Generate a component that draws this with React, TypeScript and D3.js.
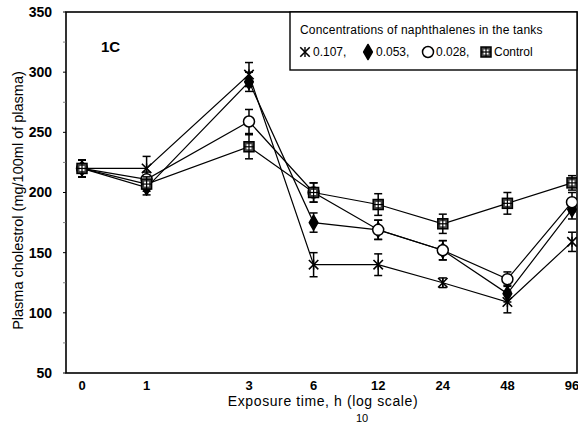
import React from 'react';
import * as d3 from 'd3';

// exposure times (h); 0 is drawn at 0.5 h on the log axis
const hours = [0, 1, 3, 6, 12, 24, 48, 96];
const yTicks = [50, 100, 150, 200, 250, 300, 350];

const s107 = [220, 220, 298, 140, 140, 125, 109, 159];
const e107 = [7, 10, 10, 10, 9, 4, 9, 8];
const s053 = [220, 204, 292, 175, 169, 152, 116, 186];
const e053 = [7, 6, 8, 8, 8, 8, 7, 8];
const s028 = [220, 211, 259, 200, 169, 152, 128, 192];
const e028 = [7, 6, 10, 8, 8, 8, 6, 8];
const sControl = [220, 207, 238, 200, 190, 174, 191, 208];
const eControl = [7, 6, 10, 8, 9, 8, 9, 6];

const seriesNames = ['0.107,', '0.053,', '0.028,', 'Control'];

const W = 578;
const H = 423;
const m = { l: 66, r: 577, t: 12, b: 373 };
const font = 'Liberation Sans, Arial, Helvetica, sans-serif';

const xPos = (h: number) => (h === 0 ? 0.5 : h);
const x = d3.scaleLog().base(2).domain([0.5, 96]).range([82, 572]);
const y = d3.scaleLinear().domain([50, 350]).range([m.b, m.t]);

const Marker = ({ kind, cx, cy }: { kind: string; cx: number; cy: number }) => {
	if (kind === 'star') {
		return (
			<g transform={`translate(${cx},${cy})`}>
				<path d={d3.symbol(d3.symbolX, 60)()} stroke="#000" strokeWidth={1.6} fill="none" />
				<line x1={0} x2={0} y1={-5} y2={5} stroke="#000" strokeWidth={1.4} />
			</g>
		);
	}
	if (kind === 'diamond') {
		return <path d={d3.symbol(d3.symbolDiamond, 65)()} transform={`translate(${cx},${cy})`} fill="#000" stroke="#000" strokeWidth={1.5} strokeLinejoin="round" />;
	}
	if (kind === 'circle') {
		return <circle cx={cx} cy={cy} r={5.5} fill="#fff" stroke="#000" strokeWidth={1.5} />;
	}
	return (
		<g transform={`translate(${cx},${cy})`}>
			<rect x={-5} y={-5} width={10} height={10} fill="#444" stroke="#000" strokeWidth={1.5} />
			<rect x={-2.5} y={-2.5} width={5} height={5} fill="#fff" />
			<line x1={0} x2={0} y1={-5} y2={5} stroke="#000" strokeWidth={1.2} />
			<line x1={-5} x2={5} y1={0} y2={0} stroke="#000" strokeWidth={1.2} />
		</g>
	);
};

const series = [
	{ name: seriesNames[0], values: s107, errs: e107, kind: 'star' },
	{ name: seriesNames[1], values: s053, errs: e053, kind: 'diamond' },
	{ name: seriesNames[2], values: s028, errs: e028, kind: 'circle' },
	{ name: seriesNames[3], values: sControl, errs: eControl, kind: 'square' },
];

const App = () => {
	const line = d3
		.line<number>()
		.x((d, i) => x(xPos(hours[i])))
		.y((d) => y(d));

	const minor = d3.range(75, 350, 50);

	return (
		<svg width={W} height={H} style={{ position: 'absolute', left: 0, top: 0, background: '#fff' }} fontFamily={font}>
			<defs>
				<clipPath id="plot">
					<rect x={m.l} y={m.t} width={m.r - m.l} height={m.b - m.t} />
				</clipPath>
			</defs>

			{/* frame */}
			<rect x={m.l} y={m.t} width={m.r - m.l} height={m.b - m.t} fill="none" stroke="#000" strokeWidth={1.6} />

			{/* y ticks */}
			{yTicks.map((t) => (
				<g key={t}>
					<line x1={m.l - 3} x2={m.l} y1={y(t)} y2={y(t)} stroke="#000" strokeWidth={1} />
					<text x={52} y={y(t)} dy="0.35em" textAnchor="end" fontSize={14} fontWeight="bold">
						{t}
					</text>
				</g>
			))}
			{minor.map((t) => (
				<line key={t} x1={m.l - 3} x2={m.l} y1={y(t)} y2={y(t)} stroke="#666" strokeWidth={0.8} />
			))}

			{/* x tick labels */}
			{hours.map((h) => (
				<text key={h} x={x(xPos(h))} y={390} textAnchor="middle" fontSize={13} fontWeight="bold">
					{h}
				</text>
			))}

			<text x={323} y={406} textAnchor="middle" fontSize={14} letterSpacing={0.6}>
				Exposure time, h (log  scale)
			</text>
			<text x={362} y={422} textAnchor="middle" fontSize={11}>
				10
			</text>

			<text transform={`translate(23, ${(m.t + m.b) / 2 + 8}) rotate(-90)`} textAnchor="middle" fontSize={14.5}>
				Plasma cholestrol (mg/100ml of plasma)
			</text>

			<text x={101} y={52} fontSize={15} fontWeight="bold">
				1C
			</text>

			<g clipPath="url(#plot)">
				{series.map((s) => (
					<g key={s.name}>
						<path d={line(s.values) || ''} fill="none" stroke="#000" strokeWidth={1.2} />
						{s.values.map((v, i) => {
							const cx = x(xPos(hours[i]));
							return (
								<g key={i}>
									<line x1={cx} x2={cx} y1={y(v + s.errs[i])} y2={y(v - s.errs[i])} stroke="#000" strokeWidth={1.5} />
									<line x1={cx - 4} x2={cx + 4} y1={y(v + s.errs[i])} y2={y(v + s.errs[i])} stroke="#000" strokeWidth={1.5} />
									<line x1={cx - 4} x2={cx + 4} y1={y(v - s.errs[i])} y2={y(v - s.errs[i])} stroke="#000" strokeWidth={1.5} />
								</g>
							);
						})}
						{s.values.map((v, i) => (
							<Marker key={i} kind={s.kind} cx={x(xPos(hours[i]))} cy={y(v)} />
						))}
					</g>
				))}
			</g>

			{/* legend */}
			<rect x={290} y={m.t} width={m.r - 290} height={58} fill="#fff" stroke="#000" strokeWidth={1.4} />
			<text x={300} y={34} fontSize={12} letterSpacing={0.2}>
				Concentrations of naphthalenes in the tanks
			</text>
			{series.map((s, i) => {
				const lx = [305, 368, 428, 486][i];
				return (
					<g key={s.name}>
						<Marker kind={s.kind} cx={lx} cy={52} />
						<text x={lx + 8} y={56} fontSize={12}>
							{s.name}
						</text>
					</g>
				);
			})}
		</svg>
	);
};

export default App;
